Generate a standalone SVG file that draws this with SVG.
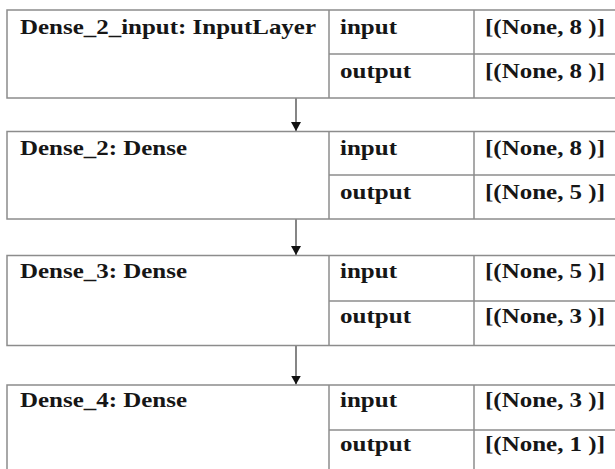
<svg xmlns="http://www.w3.org/2000/svg" width="615" height="469" viewBox="0 0 615 469">
  <style>
    .box { fill: #ffffff; stroke: #8c8c8c; stroke-width: 1.5; }
    .sep { stroke: #8c8c8c; stroke-width: 1.5; fill: none; }
    .t { font-family: "Liberation Serif", "Times New Roman", serif; font-weight: bold; font-size: 22px; fill: #161616; }
    .edge { stroke: #444444; stroke-width: 1.3; fill: none; marker-end: url(#arr); }
  </style>
  <defs>
    <marker id="arr" markerUnits="userSpaceOnUse" markerWidth="12" markerHeight="12" refX="9" refY="5" orient="auto">
      <path d="M0,0 L9,5 L0,10 z" fill="#111111"/>
    </marker>
  </defs>
  <rect width="615" height="469" fill="#ffffff"/>

  <g id="connectors">
    <line class="edge" x1="296" y1="98" x2="296" y2="131"/>
    <line class="edge" x1="296" y1="219" x2="296" y2="255"/>
    <line class="edge" x1="296" y1="345.5" x2="296" y2="384.5"/>
  </g>

  <g id="dense_2_input">
    <rect class="box" x="7" y="10" width="615" height="88"/>
    <line class="sep" x1="329" y1="54" x2="622" y2="54"/>
    <line class="sep" x1="329" y1="10" x2="329" y2="98"/>
    <line class="sep" x1="474" y1="10" x2="474" y2="98"/>
    <text class="t" x="20" y="34" textLength="296" lengthAdjust="spacingAndGlyphs">Dense_2_input: InputLayer</text>
    <text class="t" x="340" y="34" textLength="57" lengthAdjust="spacingAndGlyphs">input</text>
    <text class="t" x="485" y="34" textLength="120" lengthAdjust="spacingAndGlyphs">[(None, 8 )]</text>
    <text class="t" x="340" y="78" textLength="71" lengthAdjust="spacingAndGlyphs">output</text>
    <text class="t" x="485" y="78" textLength="120" lengthAdjust="spacingAndGlyphs">[(None, 8 )]</text>
  </g>

  <g id="dense_2">
    <rect class="box" x="7" y="131.5" width="615" height="87.5"/>
    <line class="sep" x1="329" y1="175" x2="622" y2="175"/>
    <line class="sep" x1="329" y1="131.5" x2="329" y2="219"/>
    <line class="sep" x1="474" y1="131.5" x2="474" y2="219"/>
    <text class="t" x="20" y="154.5" textLength="167" lengthAdjust="spacingAndGlyphs">Dense_2: Dense</text>
    <text class="t" x="340" y="154.5" textLength="57" lengthAdjust="spacingAndGlyphs">input</text>
    <text class="t" x="485" y="154.5" textLength="120" lengthAdjust="spacingAndGlyphs">[(None, 8 )]</text>
    <text class="t" x="340" y="199" textLength="71" lengthAdjust="spacingAndGlyphs">output</text>
    <text class="t" x="485" y="199" textLength="120" lengthAdjust="spacingAndGlyphs">[(None, 5 )]</text>
  </g>

  <g id="dense_3">
    <rect class="box" x="7" y="255.5" width="615" height="90"/>
    <line class="sep" x1="329" y1="301" x2="622" y2="301"/>
    <line class="sep" x1="329" y1="255.5" x2="329" y2="345.5"/>
    <line class="sep" x1="474" y1="255.5" x2="474" y2="345.5"/>
    <text class="t" x="20" y="278" textLength="167" lengthAdjust="spacingAndGlyphs">Dense_3: Dense</text>
    <text class="t" x="340" y="278" textLength="57" lengthAdjust="spacingAndGlyphs">input</text>
    <text class="t" x="485" y="278" textLength="120" lengthAdjust="spacingAndGlyphs">[(None, 5 )]</text>
    <text class="t" x="340" y="323" textLength="71" lengthAdjust="spacingAndGlyphs">output</text>
    <text class="t" x="485" y="323" textLength="120" lengthAdjust="spacingAndGlyphs">[(None, 3 )]</text>
  </g>

  <g id="dense_4">
    <rect class="box" x="7" y="385" width="615" height="90"/>
    <line class="sep" x1="329" y1="430" x2="622" y2="430"/>
    <line class="sep" x1="329" y1="385" x2="329" y2="475"/>
    <line class="sep" x1="474" y1="385" x2="474" y2="475"/>
    <text class="t" x="20" y="406.5" textLength="167" lengthAdjust="spacingAndGlyphs">Dense_4: Dense</text>
    <text class="t" x="340" y="406.5" textLength="57" lengthAdjust="spacingAndGlyphs">input</text>
    <text class="t" x="485" y="406.5" textLength="120" lengthAdjust="spacingAndGlyphs">[(None, 3 )]</text>
    <text class="t" x="340" y="451" textLength="71" lengthAdjust="spacingAndGlyphs">output</text>
    <text class="t" x="485" y="451" textLength="120" lengthAdjust="spacingAndGlyphs">[(None, 1 )]</text>
  </g>
</svg>
